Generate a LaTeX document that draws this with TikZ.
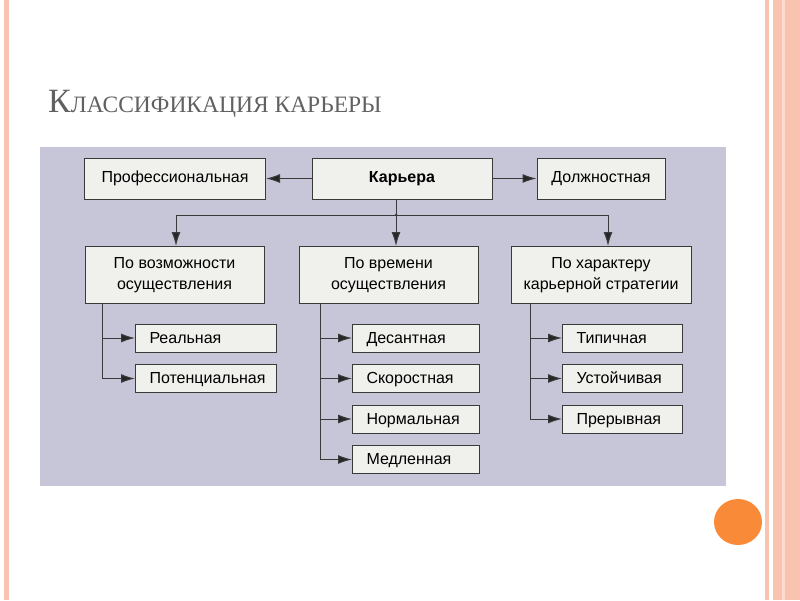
\documentclass[tikz,border=0pt]{standalone}
\usepackage{fontspec}
\setmainfont{Liberation Sans}
\newfontfamily\titlefont{Liberation Serif}
\usetikzlibrary{positioning,arrows.meta}

\definecolor{panel}{HTML}{C6C6D8}
\definecolor{boxfill}{HTML}{F0F0EC}
\definecolor{edge}{HTML}{3A3A3A}
\definecolor{rim}{HTML}{F8C4B0}
\definecolor{dot}{HTML}{F98A38}

\begin{document}
\begin{tikzpicture}[x=1pt,y=-1pt,
  cell/.style={draw=edge,line width=1pt,fill=boxfill,font=\fontsize{16}{21}\selectfont,align=center,inner sep=0pt},
  head/.style={cell,minimum height=41pt},
  group/.style={cell,minimum height=57pt,minimum width=179pt},
  leaf/.style={cell,minimum height=28pt,align=left,anchor=west,inner xsep=14pt,text height=12.5pt,text depth=2.5pt},
  link/.style={draw=edge,line width=1pt},
  arr/.style={link,-{Latex[length=14pt,width=9pt,fill=black!85]}}]
\useasboundingbox (0,0) rectangle (800,600);
% slide frame
\fill[white] (0,0) rectangle (800,600);
\fill[rim] (4,0) rectangle (9,600);
\fill[rim] (765,0) rectangle (769,600);
\fill[rim] (773,0) rectangle (800,600);
\fill[rim!60] (782,0) rectangle (785,600);
\fill[dot] (738,522) ellipse (24 and 23);
\node[anchor=base west,text=black!62,font=\titlefont,inner sep=0pt] (title) at (48,112)
  {{\fontsize{34}{34}\selectfont К}{\fontsize{23.5}{24}\selectfont ЛАССИФИКАЦИЯ КАРЬЕРЫ}};
\fill[panel] (40,147) rectangle (726,486);

\node[head,minimum width=180pt,font=\fontsize{16}{21}\selectfont\bfseries] (kar) at (402,178.5) {Карьера};
\node[head,minimum width=181pt] (prof) at (175,178.5) {Профессиональная};
\node[head,minimum width=128pt] (dolzh) at (601,178.5) {Должностная};
\node[group] (voz) at (174.5,275) {По возможности\\осуществления};
\node[group] (vrem) at (388.5,275) {По времени\\осуществления};
\node[group,minimum width=180pt] (har) at (601,275) {По характеру\\карьерной стратегии};

\begin{scope}[leaf/.append style={text width=113pt}]
\node[leaf] (real) at (135,338) {Реальная};
\node[leaf,below=11.5pt of real.south west,anchor=north west] (pot) {Потенциальная};
\end{scope}
\begin{scope}[leaf/.append style={text width=99pt}]
\node[leaf] (des) at (352,338) {Десантная};
\node[leaf,below=11.5pt of des.south west,anchor=north west] (skor) {Скоростная};
\node[leaf,below=11.5pt of skor.south west,anchor=north west] (norm) {Нормальная};
\node[leaf,below=11.5pt of norm.south west,anchor=north west] (medl) {Медленная};
\end{scope}
\begin{scope}[leaf/.append style={text width=92pt}]
\node[leaf] (tip) at (562,338) {Типичная};
\node[leaf,below=11.5pt of tip.south west,anchor=north west] (ust) {Устойчивая};
\node[leaf,below=11.5pt of ust.south west,anchor=north west] (prer) {Прерывная};
\end{scope}

\draw[arr] (kar) -- (prof);
\draw[arr] (kar) -- (dolzh);
\coordinate (bus) at (396,215);
\coordinate (busl) at (176,215);
\coordinate (busr) at (608,215);
\draw[link] (kar.south -| bus) -- (bus);
\draw[link] (busl) -- (busr);
\fill[edge] (bus) circle (1.5);
\foreach \c/\g in {busl/voz,bus/vrem,busr/har}
  \draw[arr] (\c) -- (\c |- \g.north);

\coordinate (sv) at (102,0);
\coordinate (st) at (320,0);
\coordinate (sh) at (530,0);
\draw[link] (voz.south -| sv) -- (pot.west -| sv);
\draw[link] (vrem.south -| st) -- (medl.west -| st);
\draw[link] (har.south -| sh) -- (prer.west -| sh);
\foreach \x in {real,pot}
  \draw[arr] (\x.west -| sv) -- (\x.west);
\foreach \x in {des,skor,norm,medl}
  \draw[arr] (\x.west -| st) -- (\x.west);
\foreach \x in {tip,ust,prer}
  \draw[arr] (\x.west -| sh) -- (\x.west);
\end{tikzpicture}
\end{document}
